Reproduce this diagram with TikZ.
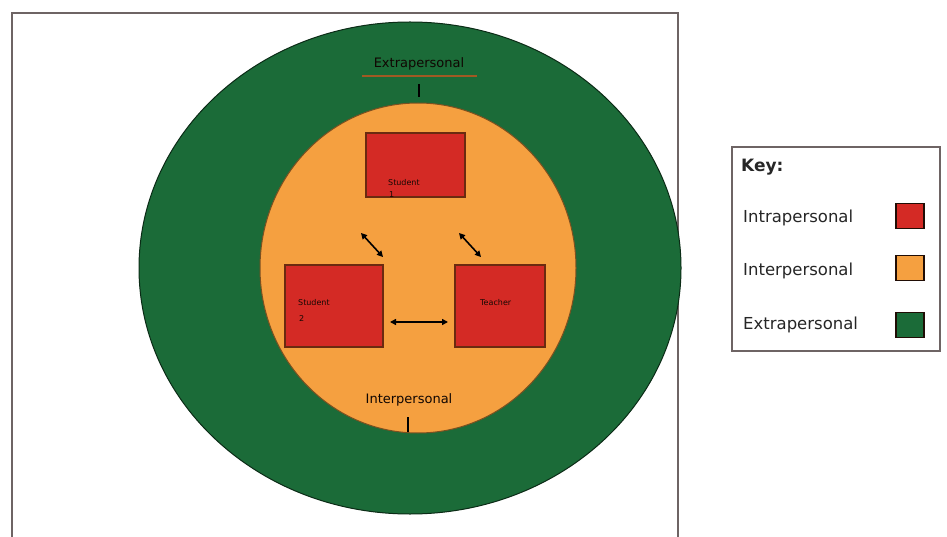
\documentclass[tikz,border=0pt]{standalone}
\usepackage{fontspec}
\setmainfont{DejaVu Sans}
\usetikzlibrary{arrows.meta,shapes.geometric}
\definecolor{ringgreen}{HTML}{1B6B38}
\definecolor{ringorange}{HTML}{F5A040}
\definecolor{boxred}{HTML}{D42A25}
\definecolor{boxedge}{HTML}{6B2A10}
\definecolor{framegray}{HTML}{6E6464}
\tikzset{
  redbox/.style={draw=boxedge, line width=2pt, fill=boxred, inner sep=0pt},
  boxtext/.style={font=\fontsize{8}{9}\selectfont, text=black!80!boxedge, align=left, inner sep=0pt},
  ringlabel/.style={font=\fontsize{13}{15}\selectfont, text=black!85!boxedge, inner sep=0pt},
  keytext/.style={font=\fontsize{16.5}{19}\selectfont, text=black!85, anchor=west, inner sep=0pt},
  swatch/.style={draw=black!70!boxedge, line width=1.5pt, minimum width=28pt, minimum height=25pt, inner sep=0pt},
  dbl/.style={{Triangle[length=6pt,width=6pt]}-{Triangle[length=6pt,width=6pt]}, line width=1.6pt, black}
}
\begin{document}
\begin{tikzpicture}[x=1pt,y=-1pt]
\useasboundingbox (0,0) rectangle (947,537);
\fill[white] (0,0) rectangle (947,537);
% frame
\draw[framegray, line width=2.5pt] (12,560) -- (12,13) -- (678,13) -- (678,560);
% rings
\node[ellipse, draw=black!60!ringgreen, line width=1pt, fill=ringgreen, minimum width=542pt, minimum height=492pt, inner sep=0pt] (outer) at (410,268) {};
\node[ellipse, draw=black!50!ringorange, line width=1pt, fill=ringorange, minimum width=316pt, minimum height=330pt, inner sep=0pt] (inner) at (418,268) {};
% boxes
\node[redbox, minimum width=99pt, minimum height=64pt] (top) at (415.5,165) {};
\node[redbox, minimum width=98pt, minimum height=82pt] (left) at (334,306) {};
\node[redbox, minimum width=90pt, minimum height=82pt] (right) at (500,306) {};
\node[boxtext, anchor=west] (toptxt) at (388,183) {Student};
\node[boxtext, anchor=west] (toptxt2) at (389,195) {1};
\node[boxtext, anchor=west] (lefttxt) at (298,303) {Student};
\node[boxtext, anchor=west] (lefttxt2) at (299,319) {2};
\node[boxtext, anchor=west] (righttxt) at (480,303) {Teacher};
% arrows
\coordinate (a1s) at (361,233);
\coordinate (a1e) at (383,257);
\coordinate (a2s) at (459,233);
\coordinate (a2e) at (481,257);
\draw[dbl] (a1s) -- (a1e);
\draw[dbl] (a2s) -- (a2e);
\coordinate (h1) at (390,322);
\coordinate (h2) at (448,322);
\draw[dbl] (h1) -- (h2);
% ring labels
\node[ringlabel] (extlab) at (419,64) {Extrapersonal};
\draw[boxedge!60!ringorange, line width=1.8pt] (362,76) -- (477,76);
\draw[black, line width=1.2pt] (419,84) -- (419,97);
\node[ringlabel] (intlab) at (409,400) {Interpersonal};
\draw[black, line width=1.2pt] (408,417) -- (408,432);
% key
\draw[framegray, line width=2pt, fill=white] (732,147) rectangle (940,351);
\node[keytext, font=\fontsize{17}{19}\selectfont\bfseries] (key) at (741,167) {Key:};
\node[keytext] (k1) at (743,218) {Intrapersonal};
\node[keytext] (k2) at (743,271) {Interpersonal};
\node[keytext] (k3) at (743,325) {Extrapersonal};
\node[swatch, fill=boxred] (s1) at (910,216) {};
\node[swatch, fill=ringorange] (s2) at (910,268) {};
\node[swatch, fill=ringgreen] (s3) at (910,325) {};
\end{tikzpicture}
\end{document}
